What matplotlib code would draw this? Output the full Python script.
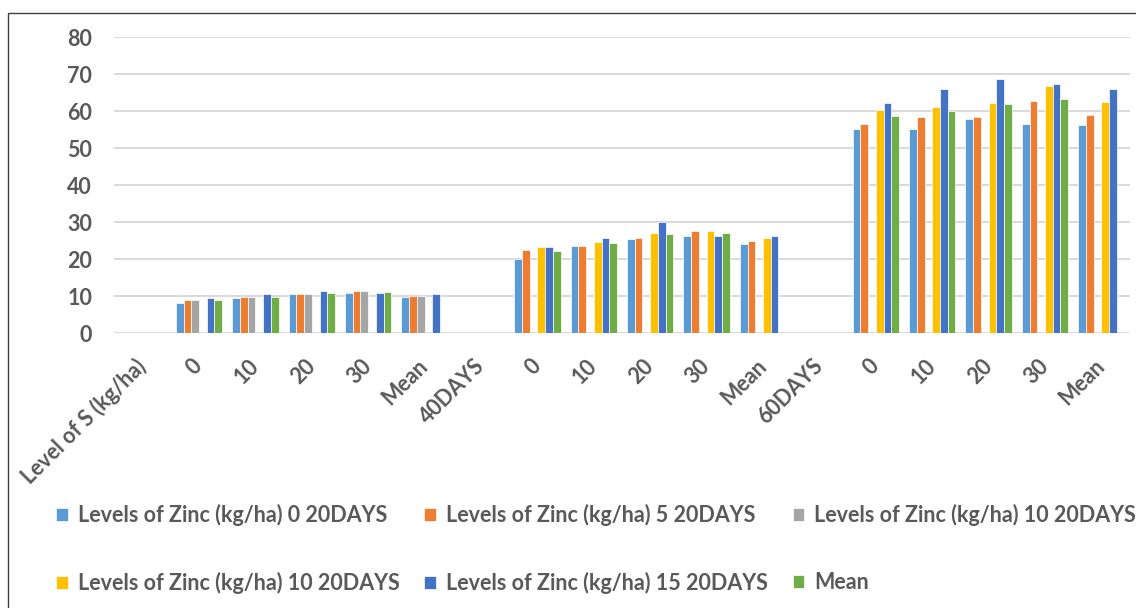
import numpy as np
import matplotlib
matplotlib.use("Agg")
import matplotlib.pyplot as plt
from matplotlib.patches import Rectangle

nan = np.nan

categories = ["Level of S (kg/ha)", "0", "10", "20", "30", "Mean",
              "40DAYS", "0", "10", "20", "30", "Mean",
              "60DAYS", "0", "10", "20", "30", "Mean"]

zinc0 = [nan, 8.1, 9.6, 10.5, 10.9, 9.8,
         nan, 20.1, 23.6, 25.4, 26.4, 24.0,
         nan, 55.2, 55.2, 57.9, 56.5, 56.2]
zinc5 = [nan, 9.1, 9.8, 10.5, 11.5, 10.2,
         nan, 22.6, 23.6, 25.7, 27.5, 25.0,
         nan, 56.5, 58.3, 58.3, 62.8, 59.0]
zinc10_gray = [nan, 9.1, 9.8, 10.5, 11.5, 10.2,
               nan, nan, nan, nan, nan, nan,
               nan, nan, nan, nan, nan, nan]
zinc10_yellow = [nan, nan, nan, nan, nan, nan,
                 nan, 23.2, 24.7, 27.1, 27.5, 25.7,
                 nan, 60.4, 61.0, 62.2, 66.7, 62.5]
zinc15 = [nan, 9.6, 10.5, 11.5, 10.9, 10.5,
          nan, 23.2, 25.7, 30.0, 26.4, 26.4,
          nan, 62.2, 66.0, 68.8, 67.4, 66.0]
mean = [nan, 9.1, 9.8, 10.9, 11.2, nan,
        nan, 22.3, 24.3, 26.8, 27.1, nan,
        nan, 58.6, 60.0, 61.8, 63.3, nan]

series = [zinc0, zinc5, zinc10_gray, zinc10_yellow, zinc15, mean]
labels = ["Levels of Zinc (kg/ha) 0 20DAYS",
          "Levels of Zinc (kg/ha) 5 20DAYS",
          "Levels of Zinc (kg/ha) 10 20DAYS",
          "Levels of Zinc (kg/ha) 10 20DAYS",
          "Levels of Zinc (kg/ha) 15 20DAYS",
          "Mean"]
colors = ["#5B9BD5", "#ED7D31", "#A5A5A5", "#FFC000", "#4472C4", "#70AD47"]

text_color = "#595959"
plt.rcParams["font.family"] = ["Lato", "DejaVu Sans"]
plt.rcParams["font.weight"] = "bold"

fig = plt.figure(figsize=(11.36, 6.08), dpi=100)
ax = fig.add_axes([0.1007, 0.4518, 0.8937, 0.4873])

x = np.arange(len(categories))
w = 0.137
handles = []
for i, (vals, lab, col) in enumerate(zip(series, labels, colors)):
    b = ax.bar(x + (i - 2.5) * w, vals, width=w, color=col,
               edgecolor="white", linewidth=0.5, label=lab, zorder=3)
    handles.append(b)

ax.set_xlim(-0.5, len(categories) - 0.5)
ax.set_ylim(0, 80)
ax.set_yticks(range(0, 81, 10))
ax.grid(axis="y", color="#D9D9D9", linewidth=1.4, zorder=0)
for s in ax.spines.values():
    s.set_visible(False)

ax.set_xticks(x)
ax.set_xticklabels(categories)
ax.tick_params(axis="x", length=0, pad=21, labelsize=15.5, labelcolor=text_color)
ax.tick_params(axis="y", length=0, pad=16, labelsize=15.5, labelcolor=text_color)
plt.setp(ax.get_xticklabels(), rotation=45, ha="right", va="center",
         rotation_mode="anchor")

# legend fills column by column, so reorder to read row by row
order = [0, 3, 1, 4, 2, 5]
fig.legend([handles[k] for k in order], [labels[k] for k in order],
           ncol=3, loc="upper left", bbox_to_anchor=(0.042, 0.1846),
           frameon=False, fontsize=15.5, labelcolor=text_color,
           handlelength=0.55, handleheight=0.55, handletextpad=0.45,
           columnspacing=1.15, labelspacing=2.1, borderaxespad=0)

# chart border (right and bottom edges fall outside the image)
fig.patches.append(Rectangle((8 / 1136, -0.1), 1.2, (608 - 12.5) / 608 + 0.1,
                             transform=fig.transFigure, fill=False,
                             edgecolor="#404040", linewidth=1.0))

fig.savefig("out.png", dpi=100)
